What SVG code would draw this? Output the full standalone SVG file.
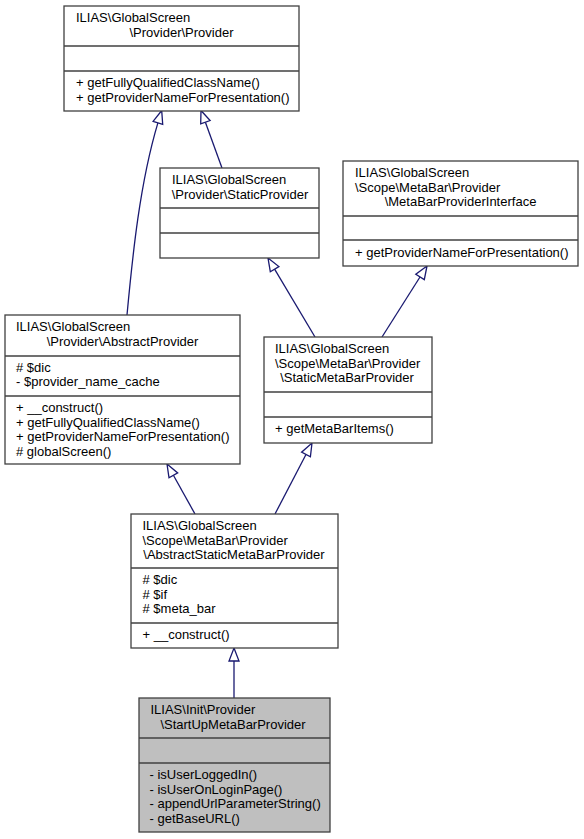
<svg xmlns="http://www.w3.org/2000/svg" width="584" height="839" viewBox="0 0 584 839">
<style>
.box{fill:#ffffff;stroke:#404040;stroke-width:1.3}
.sel{fill:#bfbfbf;stroke:#404040;stroke-width:1.3}
.div{stroke:#404040;stroke-width:1.3}
text{font-family:"Liberation Sans",Arial,sans-serif;font-size:13px;fill:#000000}
.c{text-anchor:middle}
.edge{fill:none;stroke:#191970;stroke-width:1.3}
.head{fill:#ffffff;stroke:#191970;stroke-width:1.3}
</style>
<rect width="584" height="839" fill="#ffffff"/>
<g id="connectors">
<path class="edge" d="M127,315 C132.6,255 139.9,182.9 157.9,122.9"/>
<polygon class="head" points="161.7,110.5 162.7,124.4 153.1,121.4"/>
<path class="edge" d="M222,168 L205.4,122.2"/>
<polygon class="head" points="201,110.5 210.1,120.5 200.7,123.9"/>
<path class="edge" d="M315,337 L274.6,269.2"/>
<polygon class="head" points="268,258 278.9,266.6 270.3,271.7"/>
<path class="edge" d="M382,337 L420,277"/>
<polygon class="head" points="427,266 424.3,279.6 415.8,274.3"/>
<path class="edge" d="M195,514 L173.4,475.3"/>
<polygon class="head" points="167,464 177.7,472.9 169,477.8"/>
<path class="edge" d="M275,514 L306,454.5"/>
<polygon class="head" points="312,443 310.4,456.8 301.6,452.2"/>
<path class="edge" d="M234,698 L234,661"/>
<polygon class="head" points="234,648 239,661 229,661"/>
</g>
<g id="provider">
<rect class="box" x="64" y="6" width="235" height="105"/>
<line class="div" x1="64" y1="46" x2="299" y2="46"/>
<line class="div" x1="64" y1="71" x2="299" y2="71"/>
<text x="76" y="22">ILIAS\GlobalScreen</text>
<text class="c" x="181.5" y="36.5">\Provider\Provider</text>
<text x="76" y="87">+ getFullyQualifiedClassName()</text>
<text x="76" y="101.5">+ getProviderNameForPresentation()</text>
</g>
<g id="staticprovider">
<rect class="box" x="160" y="168" width="159" height="90"/>
<line class="div" x1="160" y1="208" x2="319" y2="208"/>
<line class="div" x1="160" y1="233" x2="319" y2="233"/>
<text x="172" y="184">ILIAS\GlobalScreen</text>
<text class="c" x="240" y="198.5">\Provider\StaticProvider</text>
</g>
<g id="metabarproviderinterface">
<rect class="box" x="343" y="161" width="235" height="105"/>
<line class="div" x1="343" y1="216" x2="578" y2="216"/>
<line class="div" x1="343" y1="240" x2="578" y2="240"/>
<text x="355" y="177">ILIAS\GlobalScreen</text>
<text x="355" y="191.5">\Scope\MetaBar\Provider</text>
<text class="c" x="460.5" y="206">\MetaBarProviderInterface</text>
<text x="355" y="256.5">+ getProviderNameForPresentation()</text>
</g>
<g id="abstractprovider">
<rect class="box" x="5" y="315" width="235" height="149"/>
<line class="div" x1="5" y1="356" x2="240" y2="356"/>
<line class="div" x1="5" y1="396" x2="240" y2="396"/>
<text x="16" y="331">ILIAS\GlobalScreen</text>
<text class="c" x="122.5" y="345.5">\Provider\AbstractProvider</text>
<text x="16" y="371.5"># $dic</text>
<text x="16" y="386">- $provider_name_cache</text>
<text x="16" y="412">+ __construct()</text>
<text x="16" y="426.5">+ getFullyQualifiedClassName()</text>
<text x="16" y="441">+ getProviderNameForPresentation()</text>
<text x="16" y="455.5"># globalScreen()</text>
</g>
<g id="staticmetabarprovider">
<rect class="box" x="264" y="337" width="168" height="106"/>
<line class="div" x1="264" y1="392" x2="432" y2="392"/>
<line class="div" x1="264" y1="417" x2="432" y2="417"/>
<text x="275" y="353">ILIAS\GlobalScreen</text>
<text x="275" y="367.5">\Scope\MetaBar\Provider</text>
<text class="c" x="347" y="382">\StaticMetaBarProvider</text>
<text x="275" y="433">+ getMetaBarItems()</text>
</g>
<g id="abstractstaticmetabarprovider">
<rect class="box" x="131" y="514" width="207" height="134"/>
<line class="div" x1="131" y1="568" x2="338" y2="568"/>
<line class="div" x1="131" y1="623" x2="338" y2="623"/>
<text x="142.5" y="530">ILIAS\GlobalScreen</text>
<text x="142.5" y="544.5">\Scope\MetaBar\Provider</text>
<text class="c" x="234" y="559">\AbstractStaticMetaBarProvider</text>
<text x="142.5" y="584"># $dic</text>
<text x="142.5" y="598.5"># $if</text>
<text x="142.5" y="613"># $meta_bar</text>
<text x="142.5" y="639">+ __construct()</text>
</g>
<g id="startupmetabarprovider">
<rect class="sel" x="139" y="698" width="191" height="134"/>
<line class="div" x1="139" y1="738" x2="330" y2="738"/>
<line class="div" x1="139" y1="763" x2="330" y2="763"/>
<text x="150.5" y="714">ILIAS\Init\Provider</text>
<text class="c" x="233" y="728.5">\StartUpMetaBarProvider</text>
<text x="149.5" y="779">- isUserLoggedIn()</text>
<text x="149.5" y="793.5">- isUserOnLoginPage()</text>
<text x="149.5" y="808">- appendUrlParameterString()</text>
<text x="149.5" y="822.5">- getBaseURL()</text>
</g>
</svg>
